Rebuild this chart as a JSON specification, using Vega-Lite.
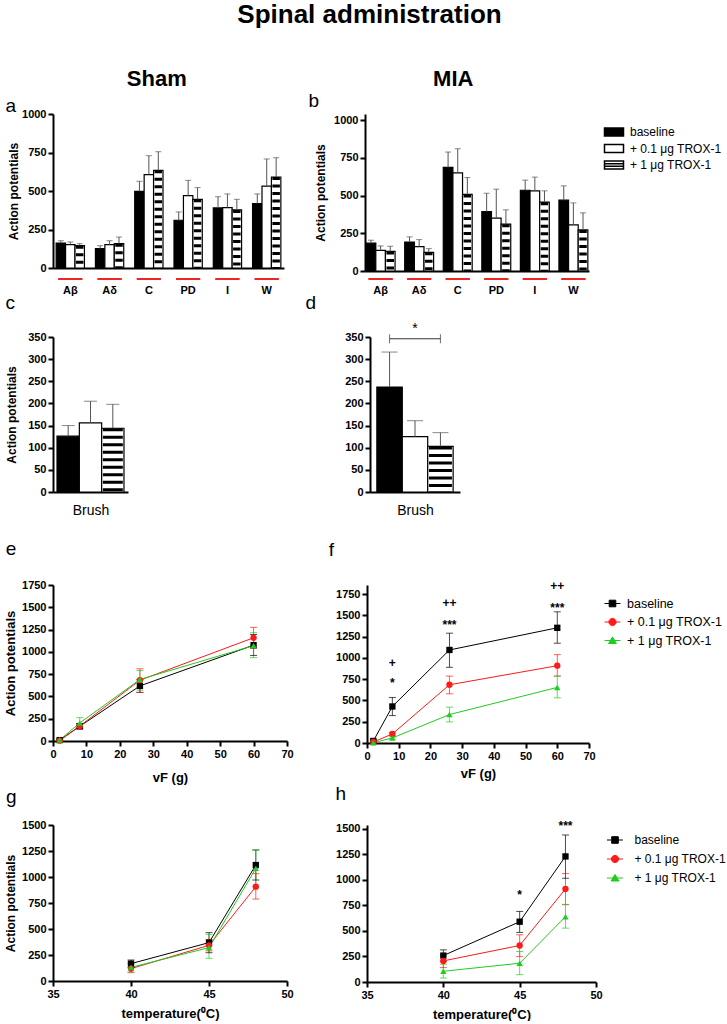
{
  "$schema": "https://vega.github.io/schema/vega-lite/v6.json",
  "padding": {"left": 4, "top": 2, "right": 0, "bottom": 0},
  "title": {"text": "Spinal administration", "fontSize": 26, "fontWeight": "bold", "font": "Liberation Sans", "anchor": "middle", "offset": 40},
  "config": {
    "font": "Liberation Sans",
    "numberFormat": "d",
    "view": {"stroke": null},
    "axis": {"grid": false, "domainColor": "black", "domainWidth": 2, "tickColor": "black", "tickWidth": 2, "tickSize": 5, "labelFont": "Liberation Sans", "labelFontWeight": "bold", "labelFontSize": 11, "labelColor": "black", "labelOverlap": false, "labelFlush": false, "titleFont": "Liberation Sans", "titleFontWeight": "bold", "titleFontSize": 12, "titleColor": "black", "labelPadding": 2},
    "legend": {"labelFont": "Liberation Sans", "labelColor": "black"},
    "title": {"font": "Liberation Sans", "color": "black"}
  },
  "resolve": {"scale": {"color": "independent", "fill": "independent", "shape": "independent", "xOffset": "independent"}, "legend": {"color": "independent", "fill": "independent", "shape": "independent"}},
  "datasets": {
    "bars": [
      {"panel": "a", "group": "Aβ", "cond": "baseline", "value": 162, "errTop": 177},
      {"panel": "a", "group": "Aβ", "cond": "+ 0.1 μg TROX-1", "value": 152, "errTop": 169},
      {"panel": "a", "group": "Aβ", "cond": "+ 1 μg TROX-1", "value": 145, "errTop": 158},
      {"panel": "a", "group": "Aδ", "cond": "baseline", "value": 126, "errTop": 145},
      {"panel": "a", "group": "Aδ", "cond": "+ 0.1 μg TROX-1", "value": 152, "errTop": 177},
      {"panel": "a", "group": "Aδ", "cond": "+ 1 μg TROX-1", "value": 158, "errTop": 201},
      {"panel": "a", "group": "C", "cond": "baseline", "value": 498, "errTop": 563},
      {"panel": "a", "group": "C", "cond": "+ 0.1 μg TROX-1", "value": 606, "errTop": 729},
      {"panel": "a", "group": "C", "cond": "+ 1 μg TROX-1", "value": 634, "errTop": 755},
      {"panel": "a", "group": "PD", "cond": "baseline", "value": 310, "errTop": 364},
      {"panel": "a", "group": "PD", "cond": "+ 0.1 μg TROX-1", "value": 470, "errTop": 569},
      {"panel": "a", "group": "PD", "cond": "+ 1 μg TROX-1", "value": 446, "errTop": 522},
      {"panel": "a", "group": "I", "cond": "baseline", "value": 390, "errTop": 463},
      {"panel": "a", "group": "I", "cond": "+ 0.1 μg TROX-1", "value": 392, "errTop": 481},
      {"panel": "a", "group": "I", "cond": "+ 1 μg TROX-1", "value": 377, "errTop": 446},
      {"panel": "a", "group": "W", "cond": "baseline", "value": 418, "errTop": 481},
      {"panel": "a", "group": "W", "cond": "+ 0.1 μg TROX-1", "value": 532, "errTop": 708},
      {"panel": "a", "group": "W", "cond": "+ 1 μg TROX-1", "value": 591, "errTop": 716},
      {"panel": "b", "group": "Aβ", "cond": "baseline", "value": 184, "errTop": 204},
      {"panel": "b", "group": "Aβ", "cond": "+ 0.1 μg TROX-1", "value": 137, "errTop": 166},
      {"panel": "b", "group": "Aβ", "cond": "+ 1 μg TROX-1", "value": 130, "errTop": 164},
      {"panel": "b", "group": "Aδ", "cond": "baseline", "value": 192, "errTop": 226},
      {"panel": "b", "group": "Aδ", "cond": "+ 0.1 μg TROX-1", "value": 161, "errTop": 208},
      {"panel": "b", "group": "Aδ", "cond": "+ 1 μg TROX-1", "value": 124, "errTop": 148},
      {"panel": "b", "group": "C", "cond": "baseline", "value": 686, "errTop": 788},
      {"panel": "b", "group": "C", "cond": "+ 0.1 μg TROX-1", "value": 650, "errTop": 810},
      {"panel": "b", "group": "C", "cond": "+ 1 μg TROX-1", "value": 507, "errTop": 619},
      {"panel": "b", "group": "PD", "cond": "baseline", "value": 394, "errTop": 515},
      {"panel": "b", "group": "PD", "cond": "+ 0.1 μg TROX-1", "value": 350, "errTop": 542},
      {"panel": "b", "group": "PD", "cond": "+ 1 μg TROX-1", "value": 310, "errTop": 405},
      {"panel": "b", "group": "I", "cond": "baseline", "value": 535, "errTop": 602},
      {"panel": "b", "group": "I", "cond": "+ 0.1 μg TROX-1", "value": 531, "errTop": 622},
      {"panel": "b", "group": "I", "cond": "+ 1 μg TROX-1", "value": 456, "errTop": 531},
      {"panel": "b", "group": "W", "cond": "baseline", "value": 469, "errTop": 564},
      {"panel": "b", "group": "W", "cond": "+ 0.1 μg TROX-1", "value": 305, "errTop": 451},
      {"panel": "b", "group": "W", "cond": "+ 1 μg TROX-1", "value": 272, "errTop": 385},
      {"panel": "c", "group": "Brush", "cond": "baseline", "value": 126, "errTop": 150},
      {"panel": "c", "group": "Brush", "cond": "+ 0.1 μg TROX-1", "value": 156, "errTop": 205},
      {"panel": "c", "group": "Brush", "cond": "+ 1 μg TROX-1", "value": 144, "errTop": 198},
      {"panel": "d", "group": "Brush", "cond": "baseline", "value": 237, "errTop": 316},
      {"panel": "d", "group": "Brush", "cond": "+ 0.1 μg TROX-1", "value": 125, "errTop": 161},
      {"panel": "d", "group": "Brush", "cond": "+ 1 μg TROX-1", "value": 103, "errTop": 134}
    ],
    "lines": [
      {"panel": "e", "cond": "baseline", "x": 2, "value": 10, "lo": 0, "hi": 25},
      {"panel": "e", "cond": "baseline", "x": 8, "value": 165, "lo": 135, "hi": 195},
      {"panel": "e", "cond": "baseline", "x": 26, "value": 618, "lo": 545, "hi": 690},
      {"panel": "e", "cond": "baseline", "x": 60, "value": 1075, "lo": 960, "hi": 1195},
      {"panel": "e", "cond": "+ 0.1 μg TROX-1", "x": 2, "value": 5, "lo": 0, "hi": 15},
      {"panel": "e", "cond": "+ 0.1 μg TROX-1", "x": 8, "value": 168, "lo": 140, "hi": 195},
      {"panel": "e", "cond": "+ 0.1 μg TROX-1", "x": 26, "value": 682, "lo": 545, "hi": 810},
      {"panel": "e", "cond": "+ 0.1 μg TROX-1", "x": 60, "value": 1158, "lo": 1040, "hi": 1275},
      {"panel": "e", "cond": "+ 1 μg TROX-1", "x": 2, "value": 12, "lo": 0, "hi": 28},
      {"panel": "e", "cond": "+ 1 μg TROX-1", "x": 8, "value": 202, "lo": 155, "hi": 262},
      {"panel": "e", "cond": "+ 1 μg TROX-1", "x": 26, "value": 690, "lo": 570, "hi": 790},
      {"panel": "e", "cond": "+ 1 μg TROX-1", "x": 60, "value": 1070, "lo": 935, "hi": 1215},
      {"panel": "f", "cond": "baseline", "x": 2, "value": 24, "lo": 5, "hi": 40},
      {"panel": "f", "cond": "baseline", "x": 8, "value": 429, "lo": 322, "hi": 535},
      {"panel": "f", "cond": "baseline", "x": 26, "value": 1093, "lo": 889, "hi": 1290},
      {"panel": "f", "cond": "baseline", "x": 60, "value": 1353, "lo": 1172, "hi": 1541},
      {"panel": "f", "cond": "+ 0.1 μg TROX-1", "x": 2, "value": 12, "lo": 0, "hi": 25},
      {"panel": "f", "cond": "+ 0.1 μg TROX-1", "x": 8, "value": 106, "lo": 85, "hi": 125},
      {"panel": "f", "cond": "+ 0.1 μg TROX-1", "x": 26, "value": 684, "lo": 578, "hi": 786},
      {"panel": "f", "cond": "+ 0.1 μg TROX-1", "x": 60, "value": 908, "lo": 786, "hi": 1038},
      {"panel": "f", "cond": "+ 1 μg TROX-1", "x": 2, "value": 4, "lo": 0, "hi": 12},
      {"panel": "f", "cond": "+ 1 μg TROX-1", "x": 8, "value": 59, "lo": 45, "hi": 72},
      {"panel": "f", "cond": "+ 1 μg TROX-1", "x": 26, "value": 334, "lo": 248, "hi": 421},
      {"panel": "f", "cond": "+ 1 μg TROX-1", "x": 60, "value": 653, "lo": 531, "hi": 786},
      {"panel": "g", "cond": "baseline", "x": 40, "value": 167, "lo": 131, "hi": 202},
      {"panel": "g", "cond": "baseline", "x": 45, "value": 369, "lo": 272, "hi": 465},
      {"panel": "g", "cond": "baseline", "x": 48, "value": 1115, "lo": 971, "hi": 1260},
      {"panel": "g", "cond": "+ 0.1 μg TROX-1", "x": 40, "value": 119, "lo": 80, "hi": 165},
      {"panel": "g", "cond": "+ 0.1 μg TROX-1", "x": 45, "value": 343, "lo": 290, "hi": 400},
      {"panel": "g", "cond": "+ 0.1 μg TROX-1", "x": 48, "value": 907, "lo": 788, "hi": 1032},
      {"panel": "g", "cond": "+ 1 μg TROX-1", "x": 40, "value": 131, "lo": 87, "hi": 176},
      {"panel": "g", "cond": "+ 1 μg TROX-1", "x": 45, "value": 321, "lo": 218, "hi": 449},
      {"panel": "g", "cond": "+ 1 μg TROX-1", "x": 48, "value": 1083, "lo": 907, "hi": 1260},
      {"panel": "h", "cond": "baseline", "x": 40, "value": 259, "lo": 203, "hi": 315},
      {"panel": "h", "cond": "baseline", "x": 45, "value": 591, "lo": 486, "hi": 692},
      {"panel": "h", "cond": "baseline", "x": 48, "value": 1231, "lo": 1017, "hi": 1441},
      {"panel": "h", "cond": "+ 0.1 μg TROX-1", "x": 40, "value": 207, "lo": 141, "hi": 266},
      {"panel": "h", "cond": "+ 0.1 μg TROX-1", "x": 45, "value": 358, "lo": 249, "hi": 463},
      {"panel": "h", "cond": "+ 0.1 μg TROX-1", "x": 48, "value": 912, "lo": 758, "hi": 1063},
      {"panel": "h", "cond": "+ 1 μg TROX-1", "x": 40, "value": 105, "lo": 39, "hi": 174},
      {"panel": "h", "cond": "+ 1 μg TROX-1", "x": 45, "value": 184, "lo": 72, "hi": 299},
      {"panel": "h", "cond": "+ 1 μg TROX-1", "x": 48, "value": 640, "lo": 528, "hi": 761}
    ],
    "ann": [
      {"panel": "f", "x": 8, "y": 944, "label": "+"},
      {"panel": "f", "x": 8, "y": 704, "label": "*"},
      {"panel": "f", "x": 26, "y": 1644, "label": "++"},
      {"panel": "f", "x": 26, "y": 1392, "label": "***"},
      {"panel": "f", "x": 60, "y": 1840, "label": "++"},
      {"panel": "f", "x": 60, "y": 1590, "label": "***"},
      {"panel": "h", "x": 45, "y": 856, "label": "*"},
      {"panel": "h", "x": 48, "y": 1532, "label": "***"}
    ],
    "bracket": [
      {"panel": "d", "from": "baseline", "mid": "+ 0.1 μg TROX-1", "to": "+ 1 μg TROX-1", "y": 346, "label": "*"}
    ]
  },
  "spacing": 19,
  "vconcat": [
    {
      "spacing": 8,
      "resolve": {"scale": {"color": "independent", "fill": "independent", "shape": "independent", "xOffset": "independent"}, "legend": {"color": "independent", "fill": "independent", "shape": "independent"}},
      "vconcat": [
        {
          "hconcat": [
            {
              "title": {"text": "c", "orient": "bottom", "anchor": "start", "frame": "bounds", "fontSize": 19, "fontWeight": "normal", "offset": -1, "dx": 0},
              "resolve": {"scale": {"fill": "independent", "xOffset": "independent"}},
              "vconcat": [
                {
                  "title": {"text": "Sham", "fontSize": 22, "fontWeight": "bold", "anchor": "middle", "offset": 6, "dx": 12},
                  "resolve": {"scale": {"fill": "independent", "xOffset": "independent"}},
                  "vconcat": [
                    {
                      "width": 231, "height": 154,
                      "title": {"text": "a", "anchor": "start", "frame": "bounds", "fontSize": 19, "fontWeight": "normal", "offset": -8, "dx": -2},
                      "data": {"name": "bars"},
                      "transform": [{"filter": "datum.panel === 'a'"}],
                      "encoding": {
                        "x": {"field": "group", "type": "nominal", "sort": ["Aβ", "Aδ", "C", "PD", "I", "W"], "scale": {"domain": ["Aβ", "Aδ", "C", "PD", "I", "W"], "paddingInner": 0.28, "paddingOuter": 0.08}, "axis": {"title": null, "ticks": false, "labelAngle": 0, "labelPadding": 16, "labelOverlap": false}}
                      },
                      "layer": [
                        {"mark": {"type": "bar", "stroke": "black", "strokeWidth": 1.2},
                         "encoding": {
                           "xOffset": {"field": "cond", "type": "nominal", "scale": {"domain": ["baseline", "+ 0.1 μg TROX-1", "+ 1 μg TROX-1"], "paddingInner": 0, "paddingOuter": 0}},
                           "y": {"field": "value", "type": "quantitative", "scale": {"domain": [0, 1000], "nice": false}, "axis": {"values": [0, 250, 500, 750, 1000], "tickCount": 20, "labelOverlap": false, "title": "Action potentials", "titlePadding": 1}},
                           "fill": {"field": "cond", "type": "nominal", "scale": {"domain": ["baseline", "+ 0.1 μg TROX-1", "+ 1 μg TROX-1"], "range": ["black", "white", "white"]}, "legend": null}
                         }},
                        {"transform": [{"filter": "datum.cond === '+ 1 μg TROX-1'"}],
                         "mark": {"type": "rule", "color": "black", "strokeWidth": 7.5, "strokeDash": [3, 4.5]},
                         "encoding": {
                           "xOffset": {"field": "cond", "type": "nominal"},
                           "y": {"field": "value", "type": "quantitative"},
                           "y2": {"datum": 0}
                         }},
                        {"mark": {"type": "rule", "color": "#555555", "strokeWidth": 1},
                         "encoding": {
                           "xOffset": {"field": "cond", "type": "nominal"},
                           "y": {"field": "value", "type": "quantitative"},
                           "y2": {"field": "errTop"}
                         }},
                        {"mark": {"type": "tick", "color": "#555555", "thickness": 1, "size": 6},
                         "encoding": {
                           "xOffset": {"field": "cond", "type": "nominal"},
                           "y": {"field": "errTop", "type": "quantitative"}
                         }},
                        {"mark": {"type": "tick", "color": "#ee2020", "thickness": 2, "size": 24, "yOffset": 11},
                         "encoding": {"y": {"datum": 0}}}
                      ]
                    }
                  ]
                }
              ]
            },
            {
              "title": {"text": "d", "orient": "bottom", "anchor": "start", "frame": "bounds", "fontSize": 19, "fontWeight": "normal", "offset": -1, "dx": -3},
              "resolve": {"scale": {"fill": "independent", "xOffset": "independent"}, "legend": {"fill": "independent"}},
              "vconcat": [
                {
                  "title": {"text": "MIA", "fontSize": 22, "fontWeight": "bold", "anchor": "middle", "offset": 1, "dx": -68},
                  "resolve": {"scale": {"fill": "independent", "xOffset": "independent"}, "legend": {"fill": "independent"}},
                  "vconcat": [
                    {
                      "width": 224, "height": 157,
                      "title": {"text": "b", "anchor": "start", "frame": "bounds", "fontSize": 19, "fontWeight": "normal", "offset": 3, "dx": -6},
                      "data": {"name": "bars"},
                      "transform": [{"filter": "datum.panel === 'b'"}],
                      "encoding": {
                        "x": {"field": "group", "type": "nominal", "sort": ["Aβ", "Aδ", "C", "PD", "I", "W"], "scale": {"domain": ["Aβ", "Aδ", "C", "PD", "I", "W"], "paddingInner": 0.25, "paddingOuter": 0.03}, "axis": {"title": null, "ticks": false, "labelAngle": 0, "labelPadding": 13, "labelOverlap": false}}
                      },
                      "layer": [
                        {"mark": {"type": "bar", "stroke": "black", "strokeWidth": 1.2},
                         "encoding": {
                           "xOffset": {"field": "cond", "type": "nominal", "scale": {"domain": ["baseline", "+ 0.1 μg TROX-1", "+ 1 μg TROX-1"], "paddingInner": 0, "paddingOuter": 0}},
                           "y": {"field": "value", "type": "quantitative", "scale": {"domain": [0, 1040], "nice": false}, "axis": {"values": [0, 250, 500, 750, 1000], "tickCount": 20, "labelOverlap": false, "title": "Action potentials", "titlePadding": 6}},
                           "fill": {"field": "cond", "type": "nominal", "scale": {"domain": ["baseline", "+ 0.1 μg TROX-1", "+ 1 μg TROX-1"], "range": ["black", "white", "white"]},
                             "legend": {"title": null, "orient": "right", "offset": 7, "padding": 12, "labelFontSize": 12, "symbolSize": 100, "symbolStrokeColor": "black", "symbolStrokeWidth": 1.5, "rowPadding": 2.5, "labelOffset": 10,
                               "encode": {"symbols": {"update": {"shape": {"signal": "datum.value === '+ 1 μg TROX-1' ? 'M-1.9,-0.8H1.9V0.8H-1.9ZM-1.9,-0.27H1.9M-1.9,0.27H1.9' : 'M-1.9,-0.8H1.9V0.8H-1.9Z'"}, "stroke": {"value": "black"}}}}}}
                         }},
                        {"transform": [{"filter": "datum.cond === '+ 1 μg TROX-1'"}],
                         "mark": {"type": "rule", "color": "black", "strokeWidth": 7.5, "strokeDash": [3, 4.5]},
                         "encoding": {
                           "xOffset": {"field": "cond", "type": "nominal"},
                           "y": {"field": "value", "type": "quantitative"},
                           "y2": {"datum": 0}
                         }},
                        {"mark": {"type": "rule", "color": "#555555", "strokeWidth": 1},
                         "encoding": {
                           "xOffset": {"field": "cond", "type": "nominal"},
                           "y": {"field": "value", "type": "quantitative"},
                           "y2": {"field": "errTop"}
                         }},
                        {"mark": {"type": "tick", "color": "#555555", "thickness": 1, "size": 6},
                         "encoding": {
                           "xOffset": {"field": "cond", "type": "nominal"},
                           "y": {"field": "errTop", "type": "quantitative"}
                         }},
                        {"mark": {"type": "tick", "color": "#ee2020", "thickness": 2, "size": 24, "yOffset": 8},
                         "encoding": {"y": {"datum": 0}}}
                      ]
                    }
                  ]
                }
              ]
            }
          ],
          "spacing": 21,
          "resolve": {"scale": {"fill": "independent", "xOffset": "independent"}, "legend": {"fill": "independent"}}
        },
        {
          "hconcat": [
            {
              "title": {"text": "e", "orient": "bottom", "anchor": "start", "frame": "bounds", "fontSize": 19, "fontWeight": "normal", "offset": 23, "dx": 0},
              "resolve": {"scale": {"fill": "independent"}},
              "vconcat": [
                {
                  "width": 75, "height": 155,
                  "data": {"name": "bars"},
                  "transform": [{"filter": "datum.panel === 'c'"}],
                  "encoding": {
                    "x": {"field": "cond", "type": "nominal", "scale": {"domain": ["baseline", "+ 0.1 μg TROX-1", "+ 1 μg TROX-1"], "paddingInner": 0, "paddingOuter": 0.18}, "axis": {"title": "Brush", "labels": false, "ticks": false, "titleFontWeight": "normal", "titleFontSize": 14, "titlePadding": 11}}
                  },
                  "layer": [
                    {"mark": {"type": "bar", "stroke": "black", "strokeWidth": 1.2},
                     "encoding": {
                       "y": {"field": "value", "type": "quantitative", "scale": {"domain": [0, 350], "nice": false}, "axis": {"values": [0, 50, 100, 150, 200, 250, 300, 350], "tickCount": 20, "labelOverlap": false, "title": "Action potentials", "titlePadding": 9}},
                       "fill": {"field": "cond", "type": "nominal", "scale": {"domain": ["baseline", "+ 0.1 μg TROX-1", "+ 1 μg TROX-1"], "range": ["black", "white", "white"]}, "legend": null}
                     }},
                    {"transform": [{"filter": "datum.cond === '+ 1 μg TROX-1'"}],
                     "mark": {"type": "rule", "color": "black", "strokeWidth": 20, "strokeDash": [3, 4.5]},
                     "encoding": {"y": {"field": "value", "type": "quantitative"}, "y2": {"datum": 0}}},
                    {"mark": {"type": "rule", "color": "#555555", "strokeWidth": 1},
                     "encoding": {"y": {"field": "value", "type": "quantitative"}, "y2": {"field": "errTop"}}},
                    {"mark": {"type": "tick", "color": "#555555", "thickness": 1, "size": 13},
                     "encoding": {"y": {"field": "errTop", "type": "quantitative"}}}
                  ]
                }
              ]
            },
            {
              "title": {"text": "f", "orient": "bottom", "anchor": "start", "frame": "bounds", "fontSize": 19, "fontWeight": "normal", "offset": 24, "dx": -16},
              "resolve": {"scale": {"fill": "independent"}},
              "vconcat": [
                {
                  "width": 90, "height": 155,
                  "encoding": {
                    "x": {"field": "cond", "type": "nominal", "scale": {"domain": ["baseline", "+ 0.1 μg TROX-1", "+ 1 μg TROX-1"], "paddingInner": 0, "paddingOuter": 0.27}, "axis": {"title": "Brush", "labels": false, "ticks": false, "titleFontWeight": "normal", "titleFontSize": 14, "titlePadding": 11}}
                  },
                  "layer": [
                    {"data": {"name": "bars"}, "transform": [{"filter": "datum.panel === 'd'"}],
                     "mark": {"type": "bar", "stroke": "black", "strokeWidth": 1.2},
                     "encoding": {
                       "y": {"field": "value", "type": "quantitative", "scale": {"domain": [0, 350], "nice": false}, "axis": {"values": [0, 50, 100, 150, 200, 250, 300, 350], "tickCount": 20, "labelOverlap": false, "title": null}},
                       "fill": {"field": "cond", "type": "nominal", "scale": {"domain": ["baseline", "+ 0.1 μg TROX-1", "+ 1 μg TROX-1"], "range": ["black", "white", "white"]}, "legend": null}
                     }},
                    {"data": {"name": "bars"}, "transform": [{"filter": "datum.panel === 'd' && datum.cond === '+ 1 μg TROX-1'"}],
                     "mark": {"type": "rule", "color": "black", "strokeWidth": 23, "strokeDash": [3, 4.5]},
                     "encoding": {"y": {"field": "value", "type": "quantitative"}, "y2": {"datum": 0}}},
                    {"data": {"name": "bars"}, "transform": [{"filter": "datum.panel === 'd'"}],
                     "mark": {"type": "rule", "color": "#555555", "strokeWidth": 1},
                     "encoding": {"y": {"field": "value", "type": "quantitative"}, "y2": {"field": "errTop"}}},
                    {"data": {"name": "bars"}, "transform": [{"filter": "datum.panel === 'd'"}],
                     "mark": {"type": "tick", "color": "#555555", "thickness": 1, "size": 16},
                     "encoding": {"y": {"field": "errTop", "type": "quantitative"}}},
                    {"data": {"name": "bracket"},
                     "mark": {"type": "rule", "color": "#333333", "strokeWidth": 1},
                     "encoding": {"x": {"field": "from", "type": "nominal", "bandPosition": 0.5}, "x2": {"field": "to", "bandPosition": 0.5}, "y": {"field": "y", "type": "quantitative"}}},
                    {"data": {"name": "bracket"},
                     "mark": {"type": "tick", "orient": "vertical", "color": "#333333", "thickness": 1, "size": 9},
                     "encoding": {"x": {"field": "from", "type": "nominal", "bandPosition": 0.5}, "y": {"field": "y", "type": "quantitative"}}},
                    {"data": {"name": "bracket"},
                     "mark": {"type": "tick", "orient": "vertical", "color": "#333333", "thickness": 1, "size": 9},
                     "encoding": {"x": {"field": "to", "type": "nominal", "bandPosition": 0.5}, "y": {"field": "y", "type": "quantitative"}}},
                    {"data": {"name": "bracket"},
                     "mark": {"type": "text", "fontSize": 14, "baseline": "bottom", "dy": -3, "color": "black"},
                     "encoding": {"x": {"field": "mid", "type": "nominal", "bandPosition": 0.5}, "y": {"field": "y", "type": "quantitative"}, "text": {"field": "label"}}}
                  ]
                }
              ]
            }
          ],
          "spacing": 200,
          "resolve": {"scale": {"fill": "independent"}}
        }
      ]
    },
    {
      "spacing": 12,
      "resolve": {"scale": {"color": "independent", "shape": "independent"}, "legend": {"color": "independent", "shape": "independent"}},
      "vconcat": [
        {
          "hconcat": [
            {
              "title": {"text": "g", "orient": "bottom", "anchor": "start", "frame": "bounds", "fontSize": 19, "fontWeight": "normal", "offset": 3.5, "dx": 2},
              "resolve": {"scale": {"color": "independent"}, "legend": {"color": "independent"}},
              "vconcat": [
                {
                  "width": 234, "height": 156,
                  "data": {"name": "lines"},
                  "transform": [{"filter": "datum.panel === 'e'"}],
                  "encoding": {
                    "x": {"field": "x", "type": "quantitative", "scale": {"domain": [0, 70], "nice": false}, "axis": {"values": [0, 10, 20, 30, 40, 50, 60, 70], "tickCount": 20, "labelOverlap": false, "title": "vF (g)", "titleFontSize": 13, "titlePadding": 12}},
                    "color": {"field": "cond", "type": "nominal", "scale": {"domain": ["baseline", "+ 0.1 μg TROX-1", "+ 1 μg TROX-1"], "range": ["black", "#ff1a1a", "#1fcc1f"]}, "legend": null}
                  },
                  "layer": [
                    {"mark": {"type": "line", "strokeWidth": 1},
                     "encoding": {"y": {"field": "value", "type": "quantitative", "scale": {"domain": [0, 1750], "nice": false}, "axis": {"values": [0, 250, 500, 750, 1000, 1250, 1500, 1750], "tickCount": 20, "labelOverlap": false, "title": "Action potentials", "titleFontSize": 13, "titlePadding": 4.5}}}},
                    {"mark": {"type": "rule", "strokeWidth": 1, "opacity": 0.7},
                     "encoding": {"y": {"field": "lo", "type": "quantitative"}, "y2": {"field": "hi"}}},
                    {"mark": {"type": "tick", "orient": "horizontal", "size": 7, "thickness": 1, "opacity": 0.7},
                     "encoding": {"y": {"field": "lo", "type": "quantitative"}}},
                    {"mark": {"type": "tick", "orient": "horizontal", "size": 7, "thickness": 1, "opacity": 0.7},
                     "encoding": {"y": {"field": "hi", "type": "quantitative"}}},
                    {"transform": [{"filter": "datum.cond === 'baseline'"}], "mark": {"type": "point", "shape": "square", "filled": true, "size": 40, "opacity": 1},
                     "encoding": {"y": {"field": "value", "type": "quantitative"}}},
                    {"transform": [{"filter": "datum.cond === '+ 0.1 μg TROX-1'"}], "mark": {"type": "point", "shape": "circle", "filled": true, "size": 40, "opacity": 1},
                     "encoding": {"y": {"field": "value", "type": "quantitative"}}},
                    {"transform": [{"filter": "datum.cond === '+ 1 μg TROX-1'"}], "mark": {"type": "point", "shape": "triangle-up", "filled": true, "size": 40, "opacity": 1},
                     "encoding": {"y": {"field": "value", "type": "quantitative"}}}
                  ]
                }
              ]
            },
            {
              "title": {"text": "h", "orient": "bottom", "anchor": "start", "frame": "bounds", "fontSize": 19, "fontWeight": "normal", "offset": 5, "dx": 0},
              "resolve": {"scale": {"color": "independent"}, "legend": {"color": "independent"}},
              "vconcat": [
                {
                  "width": 222, "height": 158,
                  "encoding": {
                    "x": {"field": "x", "type": "quantitative", "scale": {"domain": [0, 70], "nice": false}, "axis": {"values": [0, 10, 20, 30, 40, 50, 60, 70], "tickCount": 20, "labelOverlap": false, "title": "vF (g)", "titleFontSize": 13, "titlePadding": 6}}
                  },
                  "layer": [
                    {"data": {"name": "lines"}, "transform": [{"filter": "datum.panel === 'f'"}],
                     "encoding": {"color": {"field": "cond", "type": "nominal", "scale": {"domain": ["baseline", "+ 0.1 μg TROX-1", "+ 1 μg TROX-1"], "range": ["black", "#ff1a1a", "#1fcc1f"]},
                            "legend": {"title": null, "orient": "right", "offset": 4.5, "padding": 12, "labelFontSize": 12.5, "symbolSize": 144, "symbolStrokeWidth": 1, "rowPadding": 5.5, "labelOffset": 8,
                              "encode": {"symbols": {"update": {"shape": {"signal": "datum.value === 'baseline' ? 'M-1.33,0H1.33M-0.55,-0.55H0.55V0.55H-0.55Z' : datum.value === '+ 0.1 μg TROX-1' ? 'M-1.33,0H1.33M0.6,0A0.6,0.6 0 1,1 -0.6,0A0.6,0.6 0 1,1 0.6,0Z' : 'M-1.33,0H1.33M0,-0.6L0.65,0.5H-0.65Z'"}, "fill": {"signal": "datum.value === 'baseline' ? 'black' : datum.value === '+ 0.1 μg TROX-1' ? '#ff1a1a' : '#1fcc1f'"}, "stroke": {"signal": "datum.value === 'baseline' ? 'black' : datum.value === '+ 0.1 μg TROX-1' ? '#ff1a1a' : '#1fcc1f'"}, "opacity": {"value": 1}}}}}}},
                     "layer": [
                       {"mark": {"type": "line", "strokeWidth": 1},
                        "encoding": {"y": {"field": "value", "type": "quantitative", "scale": {"domain": [0, 1856], "nice": false}, "axis": {"values": [0, 250, 500, 750, 1000, 1250, 1500, 1750], "tickCount": 20, "labelOverlap": false, "title": null}}}},
                       {"mark": {"type": "rule", "strokeWidth": 1, "opacity": 0.7},
                        "encoding": {"y": {"field": "lo", "type": "quantitative"}, "y2": {"field": "hi"}}},
                       {"mark": {"type": "tick", "orient": "horizontal", "size": 7, "thickness": 1, "opacity": 0.7},
                        "encoding": {"y": {"field": "lo", "type": "quantitative"}}},
                       {"mark": {"type": "tick", "orient": "horizontal", "size": 7, "thickness": 1, "opacity": 0.7},
                        "encoding": {"y": {"field": "hi", "type": "quantitative"}}},
                       {"transform": [{"filter": "datum.cond === 'baseline'"}], "mark": {"type": "point", "shape": "square", "filled": true, "size": 40, "opacity": 1},
                        "encoding": {"y": {"field": "value", "type": "quantitative"}}},
                       {"transform": [{"filter": "datum.cond === '+ 0.1 μg TROX-1'"}], "mark": {"type": "point", "shape": "circle", "filled": true, "size": 40, "opacity": 1},
                        "encoding": {"y": {"field": "value", "type": "quantitative"}}},
                       {"transform": [{"filter": "datum.cond === '+ 1 μg TROX-1'"}], "mark": {"type": "point", "shape": "triangle-up", "filled": true, "size": 40, "opacity": 1},
                        "encoding": {"y": {"field": "value", "type": "quantitative"}}}
                     ]},
                    {"data": {"name": "ann"}, "transform": [{"filter": "datum.panel === 'f'"}],
                     "mark": {"type": "text", "fontSize": 12, "fontWeight": "bold", "color": "black"},
                     "encoding": {"y": {"field": "y", "type": "quantitative"}, "text": {"field": "label"}}}
                  ]
                }
              ]
            }
          ],
          "spacing": 41,
          "resolve": {"scale": {"color": "independent"}, "legend": {"color": "independent"}}
        },
        {
          "hconcat": [
            {
              "width": 234, "height": 156,
              "data": {"name": "lines"},
              "transform": [{"filter": "datum.panel === 'g'"}],
              "encoding": {
                "x": {"field": "x", "type": "quantitative", "scale": {"domain": [35, 50], "nice": false}, "axis": {"values": [35, 40, 45, 50], "tickCount": 20, "labelOverlap": false, "title": "temperature(⁰C)", "titleFontSize": 13, "titlePadding": 8}},
                "color": {"field": "cond", "type": "nominal", "scale": {"domain": ["baseline", "+ 0.1 μg TROX-1", "+ 1 μg TROX-1"], "range": ["black", "#ff1a1a", "#1fcc1f"]}, "legend": null}
              },
              "layer": [
                {"mark": {"type": "line", "strokeWidth": 1},
                 "encoding": {"y": {"field": "value", "type": "quantitative", "scale": {"domain": [0, 1500], "nice": false}, "axis": {"values": [0, 250, 500, 750, 1000, 1250, 1500], "tickCount": 20, "labelOverlap": false, "title": "Action potentials", "titleFontSize": 12, "titlePadding": 4}}}},
                {"mark": {"type": "rule", "strokeWidth": 1, "opacity": 0.7},
                 "encoding": {"y": {"field": "lo", "type": "quantitative"}, "y2": {"field": "hi"}}},
                {"mark": {"type": "tick", "orient": "horizontal", "size": 7, "thickness": 1, "opacity": 0.7},
                 "encoding": {"y": {"field": "lo", "type": "quantitative"}}},
                {"mark": {"type": "tick", "orient": "horizontal", "size": 7, "thickness": 1, "opacity": 0.7},
                 "encoding": {"y": {"field": "hi", "type": "quantitative"}}},
                {"transform": [{"filter": "datum.cond === 'baseline'"}], "mark": {"type": "point", "shape": "square", "filled": true, "size": 40, "opacity": 1},
                 "encoding": {"y": {"field": "value", "type": "quantitative"}}},
                {"transform": [{"filter": "datum.cond === '+ 0.1 μg TROX-1'"}], "mark": {"type": "point", "shape": "circle", "filled": true, "size": 40, "opacity": 1},
                 "encoding": {"y": {"field": "value", "type": "quantitative"}}},
                {"transform": [{"filter": "datum.cond === '+ 1 μg TROX-1'"}], "mark": {"type": "point", "shape": "triangle-up", "filled": true, "size": 40, "opacity": 1},
                 "encoding": {"y": {"field": "value", "type": "quantitative"}}}
              ]
            },
            {
              "width": 229, "height": 157,
              "encoding": {
                "x": {"field": "x", "type": "quantitative", "scale": {"domain": [35, 50], "nice": false}, "axis": {"values": [35, 40, 45, 50], "tickCount": 20, "labelOverlap": false, "title": "temperature(⁰C)", "titleFontSize": 13, "titlePadding": 8}}
              },
              "layer": [
                {"data": {"name": "lines"}, "transform": [{"filter": "datum.panel === 'h'"}],
                 "encoding": {"color": {"field": "cond", "type": "nominal", "scale": {"domain": ["baseline", "+ 0.1 μg TROX-1", "+ 1 μg TROX-1"], "range": ["black", "#ff1a1a", "#1fcc1f"]},
                        "legend": {"title": null, "orient": "right", "offset": 4, "padding": 8.5, "labelFontSize": 12, "symbolSize": 144, "symbolStrokeWidth": 1, "rowPadding": 6, "labelOffset": 13,
                          "encode": {"symbols": {"update": {"shape": {"signal": "datum.value === 'baseline' ? 'M-1.33,0H1.33M-0.55,-0.55H0.55V0.55H-0.55Z' : datum.value === '+ 0.1 μg TROX-1' ? 'M-1.33,0H1.33M0.6,0A0.6,0.6 0 1,1 -0.6,0A0.6,0.6 0 1,1 0.6,0Z' : 'M-1.33,0H1.33M0,-0.6L0.65,0.5H-0.65Z'"}, "fill": {"signal": "datum.value === 'baseline' ? 'black' : datum.value === '+ 0.1 μg TROX-1' ? '#ff1a1a' : '#1fcc1f'"}, "stroke": {"signal": "datum.value === 'baseline' ? 'black' : datum.value === '+ 0.1 μg TROX-1' ? '#ff1a1a' : '#1fcc1f'"}, "opacity": {"value": 1}}}}}}},
                 "layer": [
                   {"mark": {"type": "line", "strokeWidth": 1},
                    "encoding": {"y": {"field": "value", "type": "quantitative", "scale": {"domain": [0, 1539], "nice": false}, "axis": {"values": [0, 250, 500, 750, 1000, 1250, 1500], "tickCount": 20, "labelOverlap": false, "title": null}}}},
                   {"mark": {"type": "rule", "strokeWidth": 1, "opacity": 0.7},
                    "encoding": {"y": {"field": "lo", "type": "quantitative"}, "y2": {"field": "hi"}}},
                   {"mark": {"type": "tick", "orient": "horizontal", "size": 7, "thickness": 1, "opacity": 0.7},
                    "encoding": {"y": {"field": "lo", "type": "quantitative"}}},
                   {"mark": {"type": "tick", "orient": "horizontal", "size": 7, "thickness": 1, "opacity": 0.7},
                    "encoding": {"y": {"field": "hi", "type": "quantitative"}}},
                   {"transform": [{"filter": "datum.cond === 'baseline'"}], "mark": {"type": "point", "shape": "square", "filled": true, "size": 40, "opacity": 1},
                    "encoding": {"y": {"field": "value", "type": "quantitative"}}},
                   {"transform": [{"filter": "datum.cond === '+ 0.1 μg TROX-1'"}], "mark": {"type": "point", "shape": "circle", "filled": true, "size": 40, "opacity": 1},
                    "encoding": {"y": {"field": "value", "type": "quantitative"}}},
                   {"transform": [{"filter": "datum.cond === '+ 1 μg TROX-1'"}], "mark": {"type": "point", "shape": "triangle-up", "filled": true, "size": 40, "opacity": 1},
                    "encoding": {"y": {"field": "value", "type": "quantitative"}}}
                 ]},
                {"data": {"name": "ann"}, "transform": [{"filter": "datum.panel === 'h'"}],
                 "mark": {"type": "text", "fontSize": 12, "fontWeight": "bold", "color": "black"},
                 "encoding": {"y": {"field": "y", "type": "quantitative"}, "text": {"field": "label"}}}
              ]
            }
          ],
          "spacing": 41,
          "resolve": {"scale": {"color": "independent"}, "legend": {"color": "independent"}}
        }
      ]
    }
  ]
}
